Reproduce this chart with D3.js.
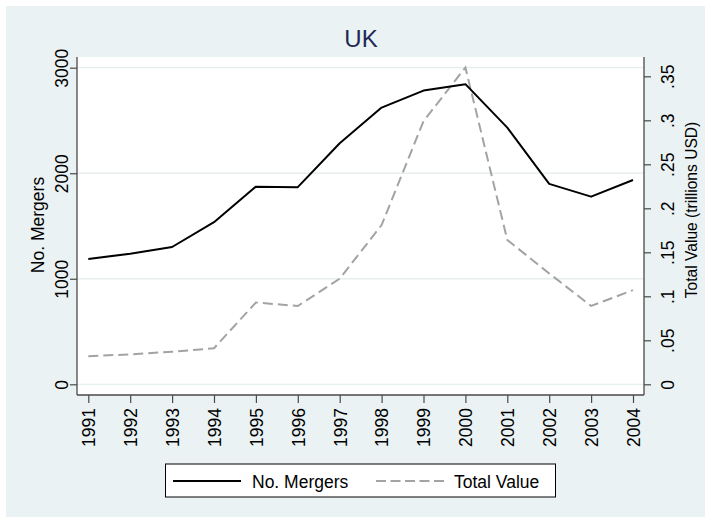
<!DOCTYPE html>
<html>
<head>
<meta charset="utf-8">
<script src="https://cdn.jsdelivr.net/npm/d3@7"></script>
<style>
  html, body { margin: 0; padding: 0; background: #ffffff; }
  svg { display: block; }
  text { font-family: "Liberation Sans", Arial, Helvetica, sans-serif; }
</style>
</head>
<body>
<svg id="chart" width="705" height="517"></svg>
<script>
// ---- data ----
const years = [1991, 1992, 1993, 1994, 1995, 1996, 1997, 1998, 1999, 2000, 2001, 2002, 2003, 2004];
const mergers = [1188, 1238, 1301, 1536, 1873, 1868, 2284, 2622, 2783, 2844, 2432, 1899, 1778, 1936];
const totalValue = [0.032, 0.034, 0.037, 0.041, 0.093, 0.089, 0.120, 0.181, 0.299, 0.360, 0.164, 0.126, 0.089, 0.107];
const leftTicks = [0, 1000, 2000, 3000];
const rightTicks = [0, 0.05, 0.10, 0.15, 0.20, 0.25, 0.30, 0.35];
const rightTickLabels = ["0", ".05", ".1", ".15", ".2", ".25", ".3", ".35"];
const titleText = "UK";
const leftTitle = "No. Mergers";
const rightTitle = "Total Value (trillions USD)";
const seriesNames = ["No. Mergers", "Total Value"];

// ---- layout ----
const W = 705, H = 517;
const plot = { left: 77, right: 644, top: 57, bottom: 395 };
const bg = "#eaf2f3";
const axisColor = "#4a4a4a";
const gridColor = "#e6eef0";
const tickFont = 17.5;

const svg = d3.select("#chart");

svg.append("rect").attr("x", 0).attr("y", 0).attr("width", W).attr("height", H).attr("fill", "#ffffff");
svg.append("rect").attr("x", 6).attr("y", 6).attr("width", W - 6).attr("height", H - 6).attr("fill", bg);
svg.append("rect")
  .attr("x", plot.left).attr("y", plot.top)
  .attr("width", plot.right - plot.left).attr("height", plot.bottom - plot.top)
  .attr("fill", "#ffffff");

const x = d3.scaleLinear().domain([1991, 2004]).range([88.3, 633]);
const yL = d3.scaleLinear().domain([0, 3000]).range([384.3, 67.7]);
const yR = d3.scaleLinear().domain([0, 0.35]).range([384.3, 76.3]);

// gridlines
svg.append("g").selectAll("line").data(leftTicks).join("line")
  .attr("x1", plot.left).attr("x2", plot.right)
  .attr("y1", d => yL(d)).attr("y2", d => yL(d))
  .attr("stroke", gridColor).attr("stroke-width", 1.3);

function styleAxis(g) {
  g.select(".domain").remove();
  g.selectAll(".tick line").attr("stroke", axisColor).attr("stroke-width", 1.2);
  g.selectAll(".tick text").attr("fill", "#000").style("font-size", tickFont + "px");
}

// left axis
const gL = svg.append("g").attr("transform", `translate(${plot.left},0)`)
  .call(d3.axisLeft(yL).tickValues(leftTicks).tickSize(7).tickFormat(d3.format("d")));
styleAxis(gL);
gL.selectAll(".tick text")
  .attr("transform", "rotate(-90)")
  .attr("x", 0).attr("y", -9.5).attr("dy", 0)
  .attr("text-anchor", "middle");

// right axis
const gR = svg.append("g").attr("transform", `translate(${plot.right},0)`)
  .call(d3.axisRight(yR).tickValues(rightTicks).tickSize(7).tickFormat((d, i) => rightTickLabels[i]));
styleAxis(gR);
gR.selectAll(".tick text")
  .attr("transform", "rotate(-90)")
  .attr("x", 0).attr("y", 30).attr("dy", 0)
  .attr("text-anchor", "middle");

// bottom axis
const gB = svg.append("g").attr("transform", `translate(0,${plot.bottom})`)
  .call(d3.axisBottom(x).tickValues(years).tickSize(8).tickFormat(d3.format("d")));
styleAxis(gB);
gB.selectAll(".tick text")
  .attr("transform", "rotate(-90)")
  .attr("x", -13).attr("y", 6.3).attr("dy", 0)
  .attr("text-anchor", "end");

// axis lines
svg.append("line").attr("x1", plot.left).attr("x2", plot.left).attr("y1", plot.top).attr("y2", plot.bottom)
  .attr("stroke", axisColor).attr("stroke-width", 1.3);
svg.append("line").attr("x1", plot.right).attr("x2", plot.right).attr("y1", plot.top).attr("y2", plot.bottom)
  .attr("stroke", axisColor).attr("stroke-width", 1.3);
svg.append("line").attr("x1", plot.left).attr("x2", plot.right).attr("y1", plot.bottom).attr("y2", plot.bottom)
  .attr("stroke", axisColor).attr("stroke-width", 1.3);

// lines
const lineL = d3.line().x((d, i) => x(years[i])).y(d => yL(d));
const lineR = d3.line().x((d, i) => x(years[i])).y(d => yR(d));

svg.append("path").datum(totalValue).attr("d", lineR)
  .attr("fill", "none").attr("stroke", "#a3a3a3").attr("stroke-width", 2)
  .attr("stroke-dasharray", "10,5");
svg.append("path").datum(mergers).attr("d", lineL)
  .attr("fill", "none").attr("stroke", "#000").attr("stroke-width", 2)
  .attr("stroke-linejoin", "round");

// titles
svg.append("text").attr("x", 361).attr("y", 47).attr("text-anchor", "middle")
  .style("font-size", "24px").attr("fill", "#1c2a55").text(titleText);

svg.append("text").attr("transform", "translate(44,225) rotate(-90)").attr("text-anchor", "middle")
  .style("font-size", "17.5px").attr("fill", "#000").text(leftTitle);

svg.append("text").attr("transform", "translate(697,210) rotate(-90)").attr("text-anchor", "middle")
  .style("font-size", "15.6px").attr("fill", "#000").text(rightTitle);

// legend
const leg = svg.append("g");
leg.append("rect").attr("x", 165.5).attr("y", 464).attr("width", 390).attr("height", 33)
  .attr("fill", "#fff").attr("stroke", "#000").attr("stroke-width", 1);
leg.append("line").attr("x1", 173).attr("x2", 241).attr("y1", 481).attr("y2", 481)
  .attr("stroke", "#000").attr("stroke-width", 2);
leg.append("text").attr("x", 252).attr("y", 487.5).style("font-size", "17.5px").text(seriesNames[0]);
leg.append("line").attr("x1", 376).attr("x2", 444).attr("y1", 481).attr("y2", 481)
  .attr("stroke", "#a3a3a3").attr("stroke-width", 2).attr("stroke-dasharray", "10,4.5");
leg.append("text").attr("x", 454).attr("y", 487.5).style("font-size", "17.5px").text(seriesNames[1]);
</script>
</body>
</html>
